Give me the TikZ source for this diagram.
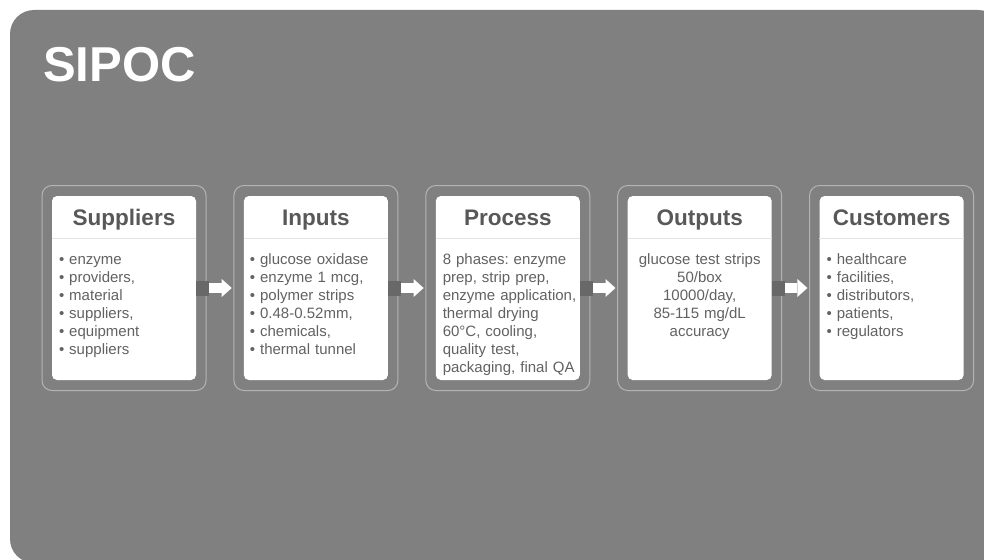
\documentclass[tikz,border=0pt]{standalone}
\usepackage{fontspec}
\setmainfont{Liberation Sans}
\usetikzlibrary{arrows.meta,positioning}

\definecolor{panelgray}{RGB}{128,128,128}
\definecolor{framegray}{RGB}{180,180,180}
\definecolor{bargray}{RGB}{104,104,104}
\definecolor{headgray}{RGB}{88,88,88}
\definecolor{bodygray}{RGB}{98,98,98}
\definecolor{rulegray}{RGB}{228,228,228}

\begin{document}
\begin{tikzpicture}[>=Latex,
 card/.style={fill=white,rounded corners=5pt,minimum width=144pt,minimum height=184pt,inner sep=0pt},
 outline/.style={draw=framegray,line width=1pt,rounded corners=10pt,minimum width=164pt,minimum height=205pt,inner sep=0pt},
 head/.style={anchor=base,inner sep=0pt,text=headgray,font=\bfseries\fontsize{22.5}{26}\selectfont},
 divider/.style={draw=rulegray,line width=.8pt},
 body/.style={anchor=north west,inner sep=0pt,text width=136pt,align=left,text=bodygray,font=\fontsize{15}{18}\selectfont\frenchspacing},
 bar/.style={draw=bargray,line width=15pt,shorten >=34.5pt},
 flow/.style={-{Triangle[length=10pt,width=18pt,line width=0pt]},draw=white,line width=10pt,shorten <=13pt,shorten >=12pt}]
\useasboundingbox (0,0) rectangle (984pt,-559pt);
\fill[panelgray,rounded corners=24pt] (10pt,-10pt) rectangle (1002pt,-563pt);

\node[anchor=base west,inner sep=0pt,text=white,font=\bfseries\fontsize{49}{50}\selectfont] (title) at (43pt,-82pt) {SIPOC};

% the five SIPOC cards
\node[card] (sup) at (124pt,-288pt) {};
\node[card,right=47.5pt of sup] (inp) {};
\node[card,right=47.5pt of inp] (pro) {};
\node[card,right=47.5pt of pro] (out) {};
\node[card,right=47.5pt of out] (cus) {};
\node[outline] (supf) at (sup) {};
\node[outline] (inpf) at (inp) {};
\node[outline] (prof) at (pro) {};
\node[outline] (outf) at (out) {};
\node[outline] (cusf) at (cus) {};

% headings and rules
\node[head] at ([yshift=-30pt]sup.north) {Suppliers};
\node[head] at ([yshift=-30pt]inp.north) {Inputs};
\node[head] at ([yshift=-30pt]pro.north) {Process};
\node[head] at ([yshift=-30pt]out.north) {Outputs};
\node[head] at ([yshift=-30pt]cus.north) {Customers};
\draw[divider] ([yshift=-43pt]sup.north west) -- ([yshift=-43pt]sup.north east);
\draw[divider] ([yshift=-43pt]inp.north west) -- ([yshift=-43pt]inp.north east);
\draw[divider] ([yshift=-43pt]pro.north west) -- ([yshift=-43pt]pro.north east);
\draw[divider] ([yshift=-43pt]out.north west) -- ([yshift=-43pt]out.north east);
\draw[divider] ([yshift=-43pt]cus.north west) -- ([yshift=-43pt]cus.north east);

% card contents
\node[body] at ([xshift=7pt,yshift=-55.4pt]sup.north west) {\strut\textbullet\ enzyme\\\textbullet\ providers,\\\textbullet\ material\\\textbullet\ suppliers,\\\textbullet\ equipment\\\textbullet\ suppliers};
\node[body] at ([xshift=6pt,yshift=-55.4pt]inp.north west) {\strut\textbullet\ glucose oxidase\\\textbullet\ enzyme 1 mcg,\\\textbullet\ polymer strips\\\textbullet\ 0.48-0.52mm,\\\textbullet\ chemicals,\\\textbullet\ thermal tunnel};
\node[body] at ([xshift=7pt,yshift=-55.4pt]pro.north west) {\strut 8 phases: enzyme\\prep, strip prep,\\enzyme application,\\thermal drying\\60°C, cooling,\\quality test,\\packaging, final QA};
\node[body,anchor=north,align=center] at ([yshift=-55.4pt]out.north) {\strut glucose test strips\\50/box\\10000/day,\\85-115 mg/dL\\accuracy};
\node[body] at ([xshift=7pt,yshift=-55.4pt]cus.north west) {\strut\textbullet\ healthcare\\\textbullet\ facilities,\\\textbullet\ distributors,\\\textbullet\ patients,\\\textbullet\ regulators};

% links between cards
\draw[bar] (sup) -- (inp);
\draw[bar] (inp) -- (pro);
\draw[bar] (pro) -- (out);
\draw[bar] (out) -- (cus);
\draw[flow] (sup) -- (inp);
\draw[flow] (inp) -- (pro);
\draw[flow] (pro) -- (out);
\draw[flow] (out) -- (cus);
\end{tikzpicture}
\end{document}
